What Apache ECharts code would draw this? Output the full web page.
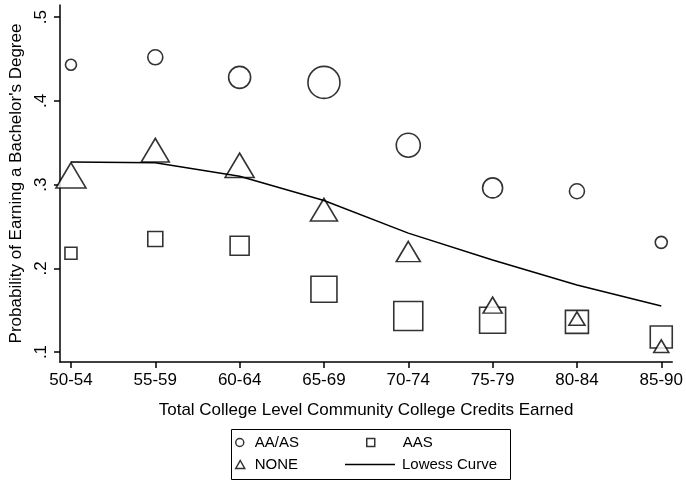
<!DOCTYPE html>
<html>
<head>
<meta charset="utf-8">
<script src="https://cdn.jsdelivr.net/npm/echarts@6/dist/echarts.min.js"></script>
<style>html,body{margin:0;padding:0;background:#fff}#c{width:686px;height:482px}</style>
</head>
<body>
<div id="c"></div>
<script>
// ---- data ----
const categories = ['50-54','55-59','60-64','65-69','70-74','75-79','80-84','85-90'];
const aaAs   = [0.443, 0.452, 0.428, 0.422, 0.347, 0.296, 0.292, 0.231];
const aas    = [0.218, 0.235, 0.227, 0.175, 0.143, 0.138, 0.136, 0.118];
const none   = [0.311, 0.341, 0.323, 0.270, 0.220, 0.156, 0.140, 0.107];
const lowess = [0.327, 0.326, 0.310, 0.281, 0.242, 0.210, 0.180, 0.155];
// marker diameters (weights)
const aaAsWeight = [11, 15, 22, 32, 24, 20, 15, 12];
const aasWeight  = [12, 15, 19, 26, 29, 26, 23, 22];
const noneWeight = [30, 28, 29, 27, 24, 19, 16, 15];
const yTicks = [0.1, 0.2, 0.3, 0.4, 0.5];

const FONT = '"Liberation Sans", Arial, Helvetica, sans-serif';
const mk = (vals, w) => vals.map((v, i) => ({ value: [i, v], w: w[i] }));
const hollow = { color: '#fff', borderColor: '#000', borderWidth: 1.6 };
const legendText = { fontFamily: FONT, fontSize: 15, color: '#000' };

const chart = echarts.init(document.getElementById('c'), null, { renderer: 'canvas' });
const option = {
  backgroundColor: '#fff',
  animation: false,
  grid: { left: 60, right: 13, top: 5, bottom: 120 },
  xAxis: {
    type: 'value', min: -0.13, max: 7.13,
    splitLine: { show: false },
    axisLine: { show: true, onZero: false, lineStyle: { color: '#000', width: 1.5 } },
    axisTick: { show: true, length: 6, lineStyle: { color: '#000', width: 1.5 }, customValues: categories.map((c, i) => i) },
    axisLabel: { color: '#000', fontFamily: FONT, fontSize: 17, margin: 10,
      customValues: categories.map((c, i) => i), formatter: v => categories[Math.round(v)] },
    name: 'Total College Level Community College Credits Earned',
    nameLocation: 'middle', nameGap: 40,
    nameTextStyle: { color: '#000', fontFamily: FONT, fontSize: 17 }
  },
  yAxis: {
    type: 'value', min: 0.0881, max: 0.5144,
    splitLine: { show: false },
    axisLine: { show: true, onZero: false, lineStyle: { color: '#000', width: 1.5 } },
    axisTick: { show: true, length: 6, lineStyle: { color: '#000', width: 1.5 }, customValues: yTicks },
    axisLabel: { color: '#000', fontFamily: FONT, fontSize: 17, rotate: 90, margin: 10,
      customValues: yTicks, formatter: v => String(+v.toFixed(1)).replace(/^0/, '') },
    name: "Probability of Earning a Bachelor's Degree",
    nameLocation: 'middle', nameGap: 33,
    nameTextStyle: { color: '#000', fontFamily: FONT, fontSize: 17 }
  },
  legend: [
    { data: ['AA/AS'], left: 235, top: 435, itemWidth: 8, itemHeight: 8, padding: 0,
      textStyle: Object.assign({ padding: [0, 0, 0, 6] }, legendText), itemStyle: { borderWidth: 1.5 } },
    { data: ['AAS'], left: 366, top: 435, itemWidth: 8, itemHeight: 8, padding: 0,
      textStyle: Object.assign({ padding: [0, 0, 0, 23] }, legendText), itemStyle: { borderWidth: 1.5 } },
    { data: ['NONE'], left: 235, top: 457, itemWidth: 9, itemHeight: 8, padding: 0,
      textStyle: Object.assign({ padding: [0, 0, 0, 5] }, legendText), itemStyle: { borderWidth: 1.5 } },
    { data: [{ name: 'Lowess Curve', icon: 'rect' }], left: 345, top: 457, itemWidth: 50, itemHeight: 1.5, padding: 0,
      textStyle: Object.assign({ padding: [0, 0, 0, 2] }, legendText), itemStyle: { color: '#000' } }
  ],
  graphic: [
    { type: 'rect', left: 229, top: 427, shape: { width: 279, height: 50 },
      style: { fill: 'none', stroke: '#000', lineWidth: 1 }, silent: true }
  ],
  series: [
    { name: 'AA/AS', type: 'scatter', symbol: 'circle', data: mk(aaAs, aaAsWeight),
      symbolSize: (v, p) => p.data.w, itemStyle: hollow, z: 3 },
    { name: 'AAS', type: 'scatter', symbol: 'rect', data: mk(aas, aasWeight),
      symbolSize: (v, p) => p.data.w, itemStyle: hollow, z: 3 },
    { name: 'NONE', type: 'scatter', symbol: 'triangle', data: mk(none, noneWeight),
      symbolSize: (v, p) => [p.data.w, p.data.w * 0.84], itemStyle: hollow, z: 4 },
    { name: 'Lowess Curve', type: 'line', data: lowess.map((v, i) => [i, v]),
      showSymbol: false, symbol: 'none', lineStyle: { color: '#000', width: 1.5 },
      itemStyle: { color: '#000' }, z: 5 }
  ]
};
chart.setOption(option);
</script>
</body>
</html>
